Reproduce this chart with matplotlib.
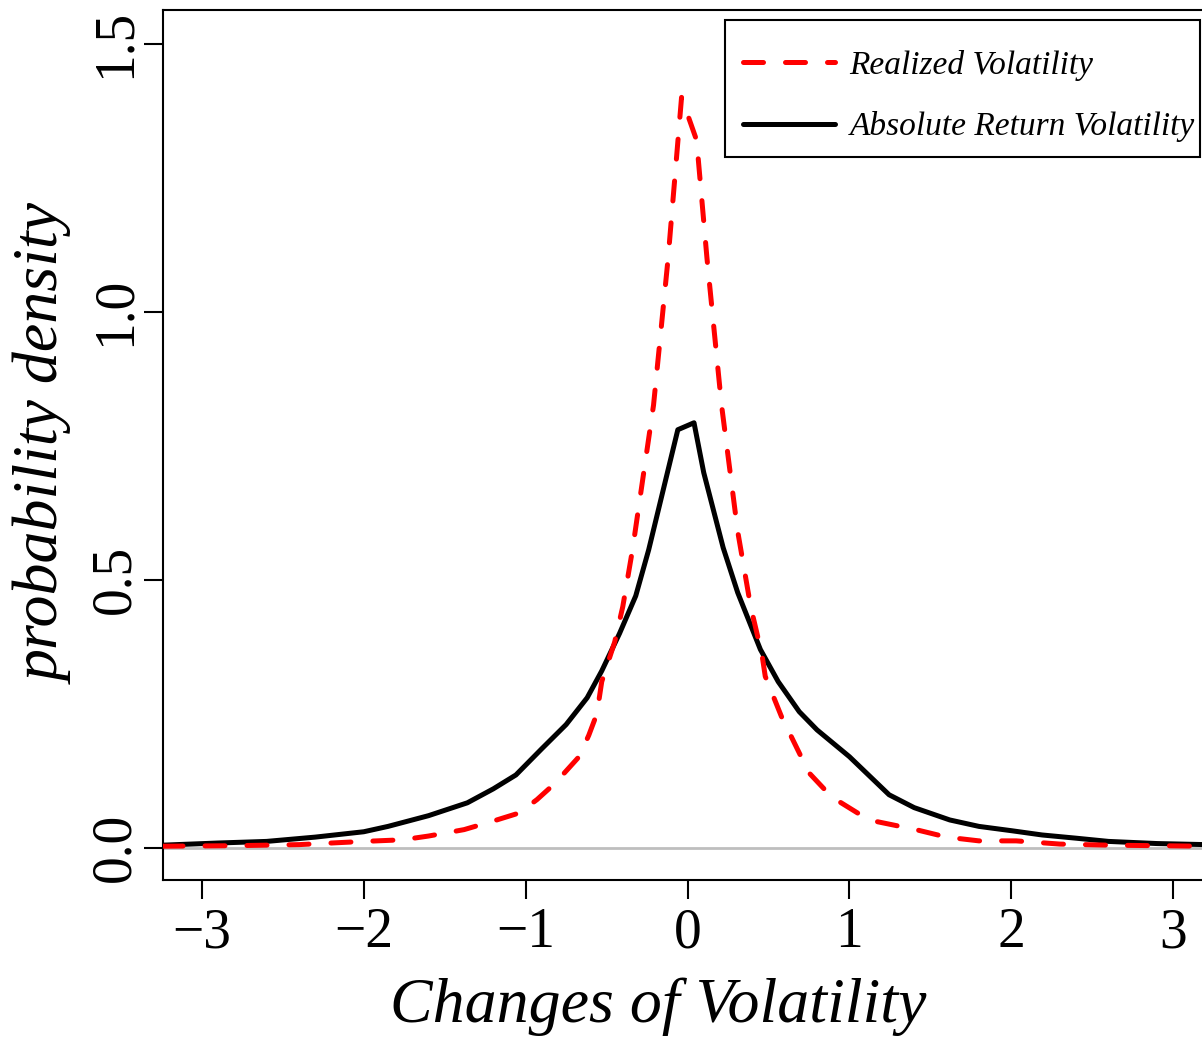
import numpy as np
import matplotlib
matplotlib.use('Agg')
import matplotlib.pyplot as plt
from matplotlib import font_manager
from matplotlib.patches import Rectangle

# 绝对收益波动率（黑色实线）
abs_x = [-3.24, -2.9, -2.6, -2.3, -2.0, -1.85, -1.6, -1.36, -1.2, -1.06, -0.9, -0.75,
         -0.62, -0.53, -0.42, -0.32, -0.24, -0.06, 0.04, 0.1, 0.22, 0.31, 0.45, 0.56,
         0.69, 0.8, 1.0, 1.245, 1.4, 1.62, 1.8, 2.0, 2.19, 2.4, 2.6, 2.9, 3.2]
abs_y = [0.005, 0.009, 0.012, 0.02, 0.03, 0.04, 0.06, 0.084, 0.11, 0.136, 0.185, 0.23,
         0.28, 0.33, 0.40, 0.47, 0.556, 0.78, 0.793, 0.70, 0.56, 0.476, 0.37, 0.31,
         0.254, 0.22, 0.17, 0.099, 0.075, 0.052, 0.04, 0.032, 0.024, 0.018, 0.012, 0.008, 0.006]

# 已实现波动率（红色虚线）
rv_x = [-3.24, -2.8, -2.4, -2.0, -1.76, -1.6, -1.38, -1.2, -1.04, -0.93, -0.82, -0.67,
        -0.61, -0.56, -0.53, -0.45, -0.4, -0.34, -0.21, -0.12, -0.037, 0.056, 0.12, 0.21,
        0.31, 0.39, 0.46, 0.48, 0.58, 0.75, 0.89, 1.12, 1.41, 1.6, 1.8, 2.03, 2.3, 2.6, 3.2]
rv_y = [0.003, 0.004, 0.006, 0.012, 0.015, 0.022, 0.034, 0.05, 0.065, 0.09, 0.12, 0.17,
        0.21, 0.25, 0.31, 0.384, 0.45, 0.556, 0.826, 1.1, 1.40, 1.32, 1.1, 0.826,
        0.59, 0.45, 0.36, 0.32, 0.245, 0.14, 0.095, 0.052, 0.034, 0.02, 0.013, 0.013, 0.007, 0.005, 0.003]

xticks = [-3, -2, -1, 0, 1, 2, 3]
xtick_labels = ['\u22123', '\u22122', '\u22121', '0', '1', '2', '3']
yticks = [0.0, 0.5, 1.0, 1.5]
ytick_labels = ['0.0', '0.5', '1.0', '1.5']


def find_font(key):
    for f in font_manager.findSystemFonts():
        if key.lower() in f.lower().replace(' ', ''):
            return f
    return None


reg_file = find_font('LiberationSerif-Regular')
ital_file = find_font('LiberationSerif-Italic')
fp_reg = font_manager.FontProperties(fname=reg_file) if reg_file else \
    font_manager.FontProperties(family='Liberation Serif')
fp_ital = font_manager.FontProperties(fname=ital_file) if ital_file else \
    font_manager.FontProperties(family='Liberation Serif', style='italic')

plt.rcParams['font.family'] = ['Liberation Serif', 'DejaVu Serif']

W, H = 1202, 1041
fig = plt.figure(figsize=(W / 100, H / 100), dpi=100)
ax = fig.add_axes([163 / W, 161 / H, 1 - 163 / W + 0.003, (880 - 10) / H])

ax.axhline(0, color='#bebebe', lw=2, zorder=1)
ax.plot(rv_x, rv_y, color='red', lw=3.6, ls=(0, (4.0, 4.4)), dash_capstyle='round',
        label='Realized Volatility', zorder=3)
ax.plot(abs_x, abs_y, color='black', lw=3.6, solid_capstyle='round',
        label='Absolute Return Volatility', zorder=2)

ax.set_xlim(-3.24, 3.2)
ax.set_ylim(-0.06, 1.563)
ax.set_xticks(xticks)
ax.set_xticklabels(xtick_labels)
ax.set_yticks(yticks)
ax.set_yticklabels(ytick_labels, rotation=90, va='center')
ax.tick_params(axis='both', length=13.5, width=1.5)
ax.tick_params(axis='x', pad=6)
ax.tick_params(axis='y', pad=2)
for lab in ax.get_xticklabels() + ax.get_yticklabels():
    lab.set_fontproperties(fp_reg)
    lab.set_fontsize(40)

for sp in ax.spines.values():
    sp.set_linewidth(1.5)

fp_lab = fp_ital.copy()
fp_lab.set_size(46)
ax.set_xlabel('Changes of Volatility', fontproperties=fp_lab)
ax.xaxis.set_label_coords((656 - 163) / (W - 163), -0.112)
ax.set_ylabel('probability density', fontproperties=fp_lab)
ax.yaxis.set_label_coords(-0.085, 0.5)

# 图例：文字与线段，外框单独画
fp_leg = fp_ital.copy()
fp_leg.set_size(24)
leg = ax.legend(loc='center left', prop=fp_leg, frameon=False,
                handlelength=2.75, borderpad=0, labelspacing=0.92, handletextpad=0.45,
                borderaxespad=0, bbox_to_anchor=(743 / W, 1 - 96 / H),
                bbox_transform=fig.transFigure)
fig.patches.append(Rectangle((725 / W, 1 - 157 / H), (1200 - 725) / W, (157 - 20) / H,
                             transform=fig.transFigure, fill=False, edgecolor='black',
                             lw=1.5, zorder=5))

fig.savefig('out.png', dpi=100)
